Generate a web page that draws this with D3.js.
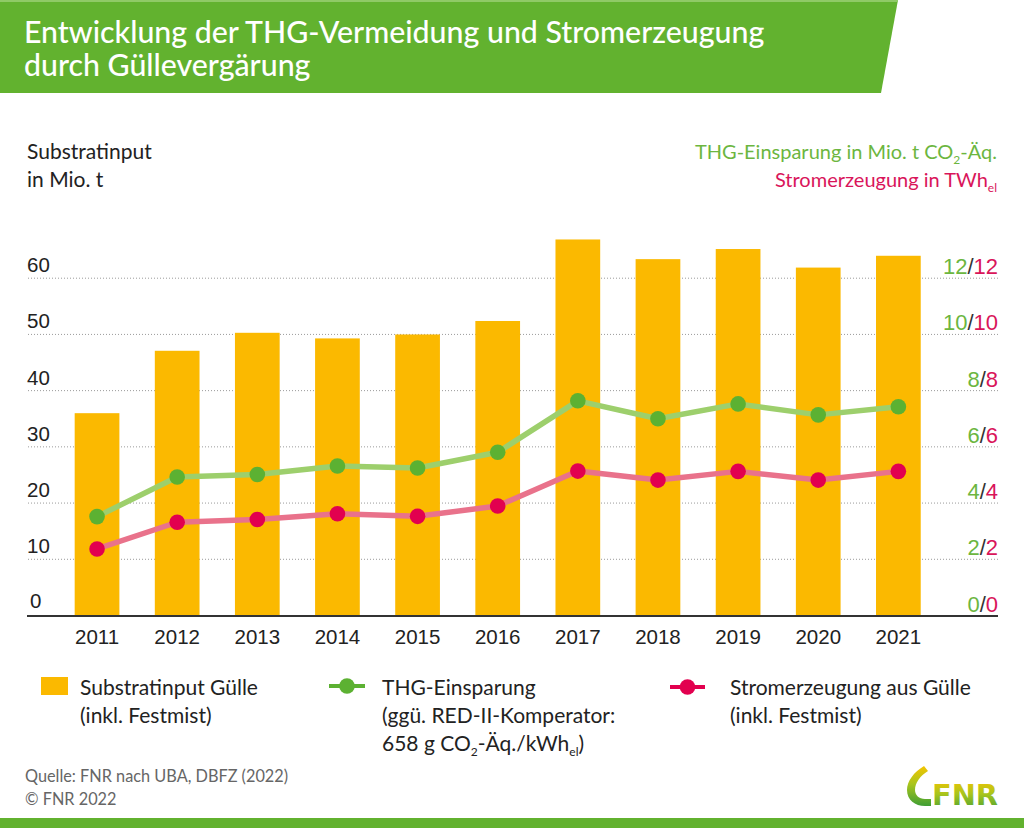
<!DOCTYPE html>
<html>
<head>
<meta charset="utf-8">
<script src="https://cdn.jsdelivr.net/npm/d3@7"></script>
<style>
  html, body { margin: 0; padding: 0; background: #fff; }
  svg { display: block; font-family: "Lato", "Liberation Sans", sans-serif; }
</style>
</head>
<body>
<svg id="chart" width="1024" height="828"></svg>
<script>
// ---- data ----
const years = ["2011", "2012", "2013", "2014", "2015", "2016", "2017", "2018", "2019", "2020", "2021"];
const substratInput = [35.9, 47.0, 50.2, 49.2, 49.9, 52.3, 66.8, 63.3, 65.1, 61.8, 63.9];
const thgEinsparung = [3.50, 4.91, 5.00, 5.30, 5.23, 5.79, 7.62, 6.98, 7.51, 7.12, 7.41];
const stromerzeugung = [2.35, 3.30, 3.40, 3.60, 3.51, 3.88, 5.12, 4.80, 5.11, 4.80, 5.11];
const leftTicks = [0, 10, 20, 30, 40, 50, 60];
const rightTicks = [0, 2, 4, 6, 8, 10, 12];

// ---- style ----
const C = {
  banner: "#62b22f",
  bar: "#fbb900",
  greenLine: "#9dcf6c",
  greenDot: "#5cb132",
  greenText: "#6cb63f",
  redLine: "#e9728b",
  redDot: "#e2004f",
  redText: "#d9155a",
  text: "#222",
  grey: "#666"
};

const svg = d3.select("#chart");

// ---- banner ----
svg.append("path")
  .attr("d", "M0,0 L898,0 L881,93 L0,93 Z")
  .attr("fill", C.banner);
svg.append("rect").attr("x", 0).attr("y", 0).attr("width", 898).attr("height", 2).attr("fill", "#8fca66");

svg.append("text")
  .attr("fill", "#fff").attr("font-size", 30.3).attr("font-weight", 500)
  .attr("x", 24).attr("y", 43)
  .text("Entwicklung der THG-Vermeidung und Stromerzeugung");
svg.append("text")
  .attr("fill", "#fff").attr("font-size", 30.3).attr("font-weight", 500)
  .attr("x", 24).attr("y", 76)
  .text("durch Güllevergärung");

// ---- scales ----
const yL = d3.scaleLinear().domain([0, 60]).range([615, 277.7]);
const yR = d3.scaleLinear().domain([0, 12]).range([615, 277.7]);
const x = d3.scaleBand().domain(years).range([27, 968.4]).paddingInner(0.442).paddingOuter(0.595);

// ---- gridlines (axis) ----
const gridG = svg.append("g").attr("transform", "translate(998,0)")
  .call(d3.axisLeft(yL).tickValues(leftTicks.slice(1)).tickSize(971).tickFormat(""));
gridG.select(".domain").remove();
gridG.selectAll(".tick line")
  .attr("stroke", "#9a9a9a")
  .attr("stroke-width", 1)
  .attr("stroke-dasharray", "1,2");

// ---- left axis labels ----
const leftG = svg.append("g").attr("transform", "translate(27,0)")
  .call(d3.axisRight(yL).tickValues(leftTicks).tickSize(0).tickFormat(d3.format("d")));
leftG.select(".domain").remove();
leftG.selectAll(".tick text")
  .attr("x", 0).attr("dy", null).attr("y", -6)
  .attr("text-anchor", "start")
  .attr("font-size", 20.5)
  .attr("font-family", null)
  .attr("fill", C.text);
leftG.selectAll(".tick").filter(d => d === 0).select("text").attr("x", 3).attr("y", -8);

// ---- right axis labels ----
const rightG = svg.append("g").attr("transform", "translate(998,0)")
  .call(d3.axisLeft(yR).tickValues(rightTicks).tickSize(0).tickFormat(""));
rightG.select(".domain").remove();
rightG.selectAll(".tick text").remove();
const rt = rightG.selectAll(".tick").append("text")
  .attr("x", 0).attr("y", -4)
  .attr("text-anchor", "end")
  .attr("font-size", 22);
rt.append("tspan").attr("fill", C.greenText).text(d => d);
rt.append("tspan").attr("fill", "#333").text("/");
rt.append("tspan").attr("fill", C.redText).text(d => d);

// ---- bars ----
svg.append("g").selectAll("rect")
  .data(substratInput)
  .join("rect")
  .attr("x", (d, i) => x(years[i]))
  .attr("width", x.bandwidth())
  .attr("y", d => yL(d))
  .attr("height", d => yL(0) - yL(d))
  .attr("fill", C.bar);

// ---- x axis ----
const xG = svg.append("g").attr("transform", "translate(0,616)")
  .call(d3.axisBottom(x).tickSize(0));
xG.select(".domain").remove();
xG.selectAll(".tick text")
  .attr("y", 28).attr("dy", null)
  .attr("font-size", 20.5)
  .attr("font-family", null)
  .attr("fill", C.text);
svg.append("line")
  .attr("x1", 27).attr("x2", 998).attr("y1", 616).attr("y2", 616)
  .attr("stroke", "#333").attr("stroke-width", 2);

// ---- lines ----
function drawSeries(values, lineColor, dotColor) {
  const line = d3.line()
    .x((d, i) => x(years[i]) + x.bandwidth() / 2)
    .y(d => yR(d));
  svg.append("path")
    .datum(values)
    .attr("d", line)
    .attr("fill", "none")
    .attr("stroke", lineColor)
    .attr("stroke-width", 5.5)
    .attr("stroke-linejoin", "round");
  svg.append("g").selectAll("circle")
    .data(values)
    .join("circle")
    .attr("cx", (d, i) => x(years[i]) + x.bandwidth() / 2)
    .attr("cy", d => yR(d))
    .attr("r", 7.8)
    .attr("fill", dotColor);
}
drawSeries(thgEinsparung, C.greenLine, C.greenDot);
drawSeries(stromerzeugung, C.redLine, C.redDot);

// ---- axis titles ----
svg.append("text").attr("font-size", 21).attr("fill", C.text)
  .attr("x", 27).attr("y", 159).text("Substratinput");
svg.append("text").attr("font-size", 21).attr("fill", C.text)
  .attr("x", 27).attr("y", 187).text("in Mio. t");

const rt1 = svg.append("text").attr("font-size", 20).attr("fill", C.greenText)
  .attr("text-anchor", "end").attr("x", 997).attr("y", 159);
rt1.append("tspan").text("THG-Einsparung in Mio. t CO");
rt1.append("tspan").attr("font-size", 12).attr("dy", 5).text("2");
rt1.append("tspan").attr("dy", -5).text("-Äq.");

const rt2 = svg.append("text").attr("font-size", 20).attr("fill", C.redText)
  .attr("text-anchor", "end").attr("x", 997).attr("y", 187);
rt2.append("tspan").text("Stromerzeugung in TWh");
rt2.append("tspan").attr("font-size", 12).attr("dy", 5).text("el");

// ---- legend ----
const legFont = 21;
svg.append("rect").attr("x", 41).attr("y", 677).attr("width", 27).attr("height", 18).attr("fill", C.bar);
svg.append("text").attr("font-size", legFont).attr("fill", C.text)
  .attr("x", 80).attr("y", 695).text("Substratinput Gülle");
svg.append("text").attr("font-size", legFont).attr("fill", C.text)
  .attr("x", 80).attr("y", 723).text("(inkl. Festmist)");

svg.append("line").attr("x1", 329).attr("x2", 365).attr("y1", 686).attr("y2", 686)
  .attr("stroke", C.greenDot).attr("stroke-width", 4);
svg.append("circle").attr("cx", 347).attr("cy", 686).attr("r", 7.8).attr("fill", C.greenDot);
svg.append("text").attr("font-size", legFont).attr("fill", C.text)
  .attr("x", 382).attr("y", 695).text("THG-Einsparung");
svg.append("text").attr("font-size", legFont).attr("fill", C.text)
  .attr("x", 382).attr("y", 723).text("(ggü. RED-II-Komperator:");
const l2c = svg.append("text").attr("font-size", legFont).attr("fill", C.text).attr("x", 382).attr("y", 751);
l2c.append("tspan").text("658 g CO");
l2c.append("tspan").attr("font-size", 12).attr("dy", 5).text("2");
l2c.append("tspan").attr("dy", -5).text("-Äq./kWh");
l2c.append("tspan").attr("font-size", 12).attr("dy", 5).text("el");
l2c.append("tspan").attr("dy", -5).text(")");

svg.append("line").attr("x1", 670).attr("x2", 705).attr("y1", 687).attr("y2", 687)
  .attr("stroke", C.redDot).attr("stroke-width", 4);
svg.append("circle").attr("cx", 687.5).attr("cy", 687).attr("r", 7.8).attr("fill", C.redDot);
svg.append("text").attr("font-size", legFont).attr("fill", C.text)
  .attr("x", 730).attr("y", 695).text("Stromerzeugung aus Gülle");
svg.append("text").attr("font-size", legFont).attr("fill", C.text)
  .attr("x", 730).attr("y", 723).text("(inkl. Festmist)");

// ---- footer ----
svg.append("text").attr("font-size", 16.3).attr("fill", C.grey)
  .attr("x", 25).attr("y", 782).text("Quelle: FNR nach UBA, DBFZ (2022)");
svg.append("text").attr("font-size", 16.3).attr("fill", C.grey)
  .attr("x", 25).attr("y", 805).text("© FNR 2022");

svg.append("rect").attr("x", 0).attr("y", 818).attr("width", 1024).attr("height", 10).attr("fill", C.banner);

// ---- logo ----
const defs = svg.append("defs");
const grad = defs.append("linearGradient").attr("id", "logoGrad")
  .attr("x1", 0).attr("y1", 0).attr("x2", 0).attr("y2", 1);
grad.append("stop").attr("offset", "0%").attr("stop-color", "#f4c400");
grad.append("stop").attr("offset", "45%").attr("stop-color", "#a9c51d");
grad.append("stop").attr("offset", "100%").attr("stop-color", "#3f9e34");
svg.append("path")
  .attr("d", "M924,766 C914,772 907,781 907,790 C907,800 915,806 925,806 L931,806 L931,799 L925,799 C919,799 915,795 915,790 C915,783 920,776 928,771 Z")
  .attr("fill", "url(#logoGrad)");
svg.append("text")
  .attr("x", 932).attr("y", 805)
  .attr("font-size", 28).attr("font-weight", 700)
  .attr("font-family", "'Liberation Sans Narrow', 'DejaVu Sans Condensed', sans-serif")
  .attr("fill", "url(#logoGrad)")
  .attr("textLength", 66).attr("lengthAdjust", "spacingAndGlyphs")
  .text("FNR");
</script>
</body>
</html>
